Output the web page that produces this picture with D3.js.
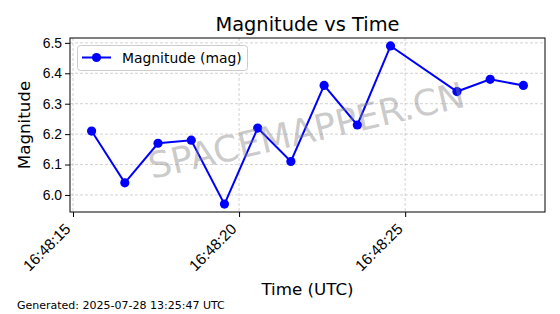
<!DOCTYPE html>
<html><head><meta charset="utf-8">
<script src="https://cdn.jsdelivr.net/npm/d3@7"></script>
<style>
html,body{margin:0;padding:0;background:#fff;}
svg{display:block;font-family:"DejaVu Sans",sans-serif;}
</style></head>
<body><svg id="c" width="560" height="314"></svg>
<script>
const times = ["16:48:15.560","16:48:16.560","16:48:17.560","16:48:18.560","16:48:19.560","16:48:20.560","16:48:21.560","16:48:22.560","16:48:23.560","16:48:24.560","16:48:26.560","16:48:27.560","16:48:28.560"];
const magnitudes = [6.21,6.04,6.17,6.18,5.97,6.22,6.11,6.36,6.23,6.49,6.34,6.38,6.36];
const yTicks = [6.0,6.1,6.2,6.3,6.4,6.5];
const dateStr = "2025-07-28";
const title = "Magnitude vs Time";
const xLabel = "Time (UTC)";
const yLabel = "Magnitude";
const seriesName = "Magnitude (mag)";
const footer = "Generated: 2025-07-28 13:25:47 UTC";
const watermark = "SPACEMAPPER.CN";

const parse = d3.utcParse("%Y-%m-%d %H:%M:%S.%L");
const data = times.map((t,i)=>({t:parse(dateStr+" "+t), v:magnitudes[i]}));

const L=70,R=545,T=38,B=212;
const svg=d3.select("#c");

const tExt=d3.extent(data,d=>+d.t), tPad=(tExt[1]-tExt[0])*0.05;
const x=d3.scaleUtc().domain([new Date(tExt[0]-tPad),new Date(tExt[1]+tPad)]).range([L,R]);
const vExt=d3.extent(data,d=>d.v), vPad=(vExt[1]-vExt[0])*0.05;
const y=d3.scaleLinear().domain([vExt[0]-vPad,vExt[1]+vPad]).range([B,T]);

const xTicks=x.ticks(d3.utcSecond.every(5));
const fmt=d3.utcFormat("%H:%M:%S");

// grid
const grid=svg.append("g").attr("stroke","#b0b0b0").attr("stroke-opacity",0.7).attr("stroke-width",0.8).attr("stroke-dasharray","3,2");
yTicks.forEach(v=>grid.append("line").attr("x1",L).attr("x2",R).attr("y1",y(v)).attr("y2",y(v)));
xTicks.forEach(t=>grid.append("line").attr("x1",x(t)).attr("x2",x(t)).attr("y1",T).attr("y2",B));

// axes
const xAxis=d3.axisBottom(x).tickValues(xTicks).tickFormat(fmt).tickSize(5).tickPadding(3);
const gx=svg.append("g").attr("transform",`translate(0,${B})`).call(xAxis);
gx.select(".domain").remove();
gx.selectAll(".tick text").attr("font-size",15.3).attr("fill","#000").attr("text-anchor","end")
  .attr("dy",null).attr("y",null).attr("transform","translate(-2,18) rotate(-45)");
gx.selectAll(".tick line").attr("stroke","#000");

const yAxis=d3.axisLeft(y).tickValues(yTicks).tickFormat(d3.format(".1f")).tickSize(5).tickPadding(3);
const gy=svg.append("g").attr("transform",`translate(${L},0)`).call(yAxis);
gy.select(".domain").remove();
gy.selectAll(".tick text").attr("font-size",13.9).attr("fill","#000");
gy.selectAll(".tick line").attr("stroke","#000");

// line + markers
const line=d3.line().x(d=>x(d.t)).y(d=>y(d.v));
svg.append("path").datum(data).attr("d",line).attr("fill","none").attr("stroke","#0000ff").attr("stroke-width",2);
svg.append("g").selectAll("circle").data(data).join("circle")
  .attr("cx",d=>x(d.t)).attr("cy",d=>y(d.v)).attr("r",4.6).attr("fill","#0000ff");

// watermark
svg.append("text").attr("transform",`translate(307,133) rotate(-13)`).attr("text-anchor","middle")
  .attr("dominant-baseline","middle").attr("font-size",36).attr("fill","#808080").attr("fill-opacity",0.42).text(watermark);

// frame
svg.append("rect").attr("x",L).attr("y",T).attr("width",R-L).attr("height",B-T).attr("fill","none").attr("stroke","#000").attr("stroke-width",1);

// legend
const lg=svg.append("g");
lg.append("rect").attr("x",77.5).attr("y",45.5).attr("width",170).attr("height",25).attr("rx",3)
  .attr("fill","#fff").attr("fill-opacity",0.8).attr("stroke","#cccccc");
lg.append("line").attr("x1",82).attr("x2",111).attr("y1",57.5).attr("y2",57.5).attr("stroke","#0000ff").attr("stroke-width",2);
lg.append("circle").attr("cx",96.5).attr("cy",57.5).attr("r",4.6).attr("fill","#0000ff");
lg.append("text").attr("x",122).attr("y",62.5).attr("font-size",13.9).attr("fill","#000").text(seriesName);

// titles
svg.append("text").attr("x",(L+R)/2).attr("y",31).attr("text-anchor","middle").attr("font-size",19.4).attr("fill","#000").text(title);
svg.append("text").attr("x",(L+R)/2).attr("y",295).attr("text-anchor","middle").attr("font-size",16.7).attr("fill","#000").text(xLabel);
svg.append("text").attr("transform",`translate(30,${(T+B)/2}) rotate(-90)`).attr("text-anchor","middle").attr("font-size",16.7).attr("fill","#000").text(yLabel);
svg.append("text").attr("x",17).attr("y",309).attr("font-size",11).attr("fill","#000").text(footer);
</script></body></html>
